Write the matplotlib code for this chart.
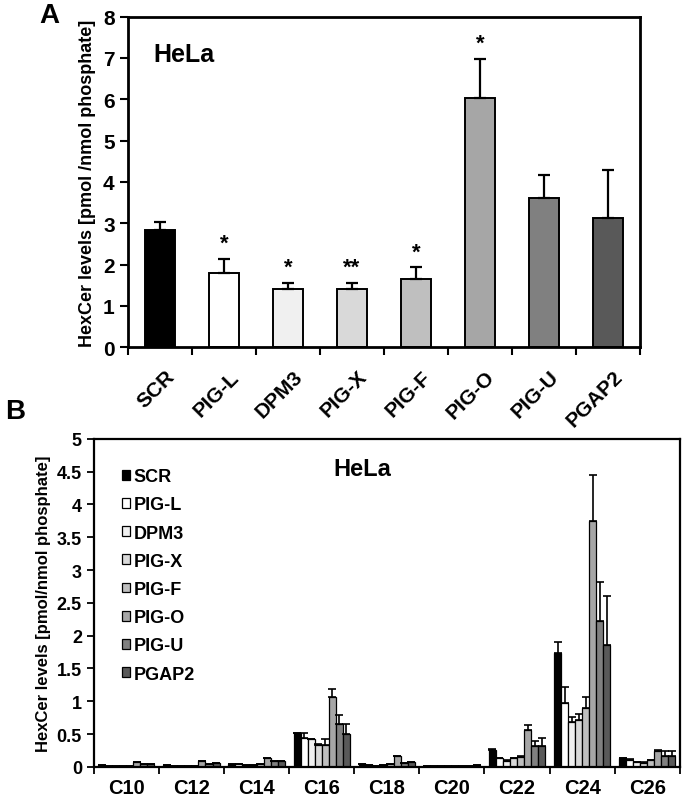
import numpy as np
from matplotlib import pyplot as plt

plt.rcParams['font.family'] = ['Liberation Sans', 'DejaVu Sans']
plt.rcParams['font.weight'] = 'bold'

# panel A: total HexCer
groups = ['SCR', 'PIG-L', 'DPM3', 'PIG-X', 'PIG-F', 'PIG-O', 'PIG-U', 'PGAP2']
colors = ['#000000', '#ffffff', '#f0f0f0', '#d9d9d9', '#bfbfbf', '#a6a6a6', '#808080', '#595959']
total = [2.83, 1.79, 1.40, 1.40, 1.65, 6.04, 3.60, 3.13]
total_err = [0.20, 0.35, 0.15, 0.15, 0.28, 0.94, 0.57, 1.17]
stars = ['', '*', '*', '**', '*', '*', '', '']

# panel B: HexCer species
species = ['C10', 'C12', 'C14', 'C16', 'C18', 'C20', 'C22', 'C24', 'C26']
species_vals = {
    'SCR':   [0.03, 0.03, 0.04, 0.51, 0.04, 0.01, 0.26, 1.73, 0.13],
    'PIG-L': [0.01, 0.01, 0.04, 0.44, 0.03, 0.01, 0.13, 0.97, 0.11],
    'DPM3':  [0.01, 0.01, 0.03, 0.42, 0.02, 0.01, 0.09, 0.68, 0.07],
    'PIG-X': [0.01, 0.01, 0.03, 0.34, 0.03, 0.01, 0.13, 0.72, 0.06],
    'PIG-F': [0.02, 0.02, 0.04, 0.33, 0.05, 0.01, 0.15, 0.89, 0.10],
    'PIG-O': [0.07, 0.09, 0.13, 1.06, 0.16, 0.01, 0.56, 3.74, 0.24],
    'PIG-U': [0.05, 0.05, 0.09, 0.65, 0.06, 0.01, 0.31, 2.22, 0.16],
    'PGAP2': [0.05, 0.06, 0.09, 0.50, 0.08, 0.03, 0.32, 1.85, 0.17],
}
species_err = {
    'SCR':   [0, 0, 0, 0.01, 0, 0, 0.01, 0.18, 0.01],
    'PIG-L': [0, 0, 0, 0.08, 0, 0, 0.01, 0.24, 0.01],
    'DPM3':  [0, 0, 0, 0.01, 0, 0, 0.01, 0.08, 0.01],
    'PIG-X': [0, 0, 0, 0.01, 0, 0, 0.01, 0.09, 0.01],
    'PIG-F': [0, 0, 0, 0.09, 0, 0, 0.01, 0.18, 0.01],
    'PIG-O': [0, 0, 0, 0.12, 0, 0, 0.08, 0.71, 0.01],
    'PIG-U': [0, 0, 0, 0.14, 0, 0, 0.09, 0.59, 0.08],
    'PGAP2': [0, 0, 0, 0.15, 0, 0, 0.12, 0.76, 0.07],
}

fig = plt.figure(figsize=(6.84, 8.04), dpi=100)

# ---------- A ----------
ax = fig.add_axes([0.187, 0.567, 0.749, 0.411])
x = np.arange(len(groups)) + 0.5
ax.bar(x, total, width=0.47, color=colors, edgecolor='black', linewidth=1.4, zorder=2)
ax.errorbar(x, total, yerr=[np.zeros(len(total)), total_err], fmt='none',
            ecolor='black', elinewidth=1.6, capsize=4, capthick=1.6, zorder=3)
for xi, v, e, s in zip(x, total, total_err, stars):
    if s:
        ax.text(xi, v + e + 0.12, s, ha='center', va='bottom', fontsize=16, fontweight='bold')
ax.set_xlim(0, len(groups))
ax.set_ylim(0, 8)
ax.set_yticks(range(9))
ax.set_xticks(np.arange(len(groups) + 1))
ax.set_xticklabels([])
ax.set_xticks(x + 0.08, minor=True)
ax.set_xticklabels(groups, minor=True, rotation=45, ha='right', rotation_mode='anchor',
                   fontsize=15, fontweight='bold')
ax.tick_params(axis='x', which='minor', length=0, pad=14)
ax.tick_params(axis='x', which='major', length=6, width=1.5, direction='out')
ax.tick_params(axis='y', length=6, width=1.5, labelsize=15)
for lbl in ax.get_yticklabels():
    lbl.set_fontweight('bold')
for sp in ax.spines.values():
    sp.set_linewidth(2)
ax.set_ylabel('HexCer levels [pmol /nmol phosphate]', fontsize=13, fontweight='bold', labelpad=5)
ax.text(0.05, 0.888, 'HeLa', transform=ax.transAxes, fontsize=18, fontweight='bold', va='center')
fig.text(0.058, 0.98, 'A', fontsize=20, fontweight='bold', va='center')

# ---------- B ----------
bx = fig.add_axes([0.137, 0.045, 0.857, 0.408])
xs = np.arange(len(species)) + 0.5
w = 0.108
for j, g in enumerate(groups):
    pos = xs + (j - 3.5) * w
    bx.bar(pos, species_vals[g], width=w, color=colors[j], edgecolor='black',
           linewidth=0.9, label=g, zorder=2)
    bx.errorbar(pos, species_vals[g], yerr=[np.zeros(len(species)), species_err[g]],
                fmt='none', ecolor='black', elinewidth=1.2, capsize=3, capthick=1.2, zorder=3)
bx.set_xlim(0, len(species))
bx.set_ylim(0, 5)
bx.set_yticks(np.arange(0, 5.01, 0.5))
bx.set_yticklabels(['0', '0.5', '1', '1.5', '2', '2.5', '3', '3.5', '4', '4.5', '5'])
bx.set_xticks(np.arange(len(species) + 1))
bx.set_xticklabels([])
bx.set_xticks(xs, minor=True)
bx.set_xticklabels(species, minor=True, fontsize=14.5, fontweight='bold')
bx.tick_params(axis='x', which='minor', length=0, pad=8)
bx.tick_params(axis='x', which='major', length=5, width=1.3, direction='out')
bx.tick_params(axis='y', length=5, width=1.3, labelsize=13)
for lbl in bx.get_yticklabels():
    lbl.set_fontweight('bold')
for sp in bx.spines.values():
    sp.set_linewidth(1.6)
bx.set_ylabel('HexCer levels [pmol/nmol phosphate]', fontsize=12, fontweight='bold', labelpad=4)
bx.text(0.409, 0.908, 'HeLa', transform=bx.transAxes, fontsize=17, fontweight='bold', va='center')
leg = bx.legend(loc='upper left', bbox_to_anchor=(0.02, 0.96), frameon=False,
                handlelength=0.45, handleheight=0.45, handletextpad=0.2,
                labelspacing=0.62, prop={'weight': 'bold', 'size': 13})
fig.text(0.008, 0.488, 'B', fontsize=20, fontweight='bold', va='center')

fig.savefig('out.png', dpi=100)
